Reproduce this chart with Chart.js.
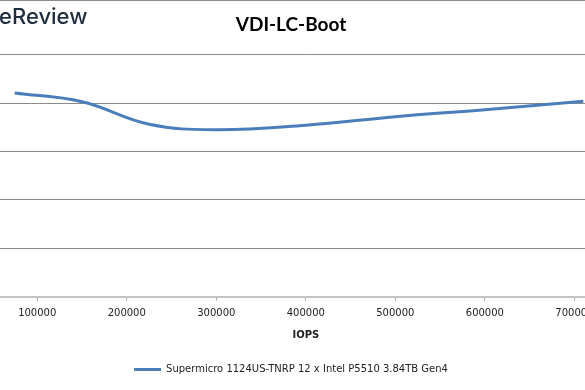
<!DOCTYPE html>
<html><head><meta charset="utf-8">
<script src="https://cdn.jsdelivr.net/npm/chart.js@4.4.1/dist/chart.umd.min.js"></script>
<style>
html,body{margin:0;padding:0;background:#fff;}
body{width:585px;height:390px;position:relative;overflow:hidden;}
#frame{position:absolute;left:0;top:0;width:585px;height:1px;background:#8c8c8c;}
#logo{position:absolute;left:-1px;top:3px;font-family:Inter,sans-serif;font-weight:500;font-size:22px;color:#1d2d3e;}
#wrap{position:absolute;left:-108px;top:0;width:798px;height:390px;}
</style></head><body>
<div id="wrap"><canvas id="c"></canvas></div>
<div id="frame"></div>
<div id="logo">eReview</div>
<script>
const chartTitle = 'VDI-LC-Boot';
const xAxisTitle = 'IOPS';
const seriesName = 'Supermicro 1124US-TNRP 12 x Intel P5510 3.84TB Gen4';
const iops = [74800, 150000, 225000, 300000, 400000, 500000, 600000, 710000];
const latency = [0.842, 0.806, 0.713, 0.690, 0.709, 0.744, 0.773, 0.808];
const xMin = 0, xMax = 800000, xStep = 100000;
const yMin = 0, yMax = 1.0, yStep = 0.2;

const blue = '#4a7ebb';
const points = iops.map((x, i) => ({x: x, y: latency[i]}));

new Chart(document.getElementById('c'), {
  type: 'line',
  data: { datasets: [{
    label: seriesName,
    data: points,
    borderColor: blue,
    backgroundColor: blue,
    borderWidth: 3,
    pointRadius: 0,
    tension: 0.4,
    fill: false
  }]},
  options: {
    responsive: true,
    maintainAspectRatio: false,
    animation: false,
    devicePixelRatio: 1,
    layout: { padding: { left: 20, right: 20, top: 0, bottom: 5.5 } },
    plugins: {
      title: {
        display: true, text: chartTitle, color: '#000',
        font: { family: 'Lato', size: 19, weight: 'bold' },
        padding: { top: 13, bottom: 19 }
      },
      legend: {
        position: 'bottom',
        labels: {
          color: '#222', font: { family: 'DejaVu Sans', size: 10 },
          boxWidth: 27, boxHeight: 3,
          generateLabels: (chart) => chart.data.datasets.map((d, i) => ({
            text: d.label, fillStyle: blue, strokeStyle: blue, lineWidth: 0, datasetIndex: i, fontColor: '#222'
          }))
        }
      },
      tooltip: { enabled: false }
    },
    scales: {
      x: {
        type: 'linear', min: xMin, max: xMax,
        ticks: { stepSize: xStep, autoSkip: false, maxRotation: 0, padding: 7, color: '#222',
          font: { family: 'DejaVu Sans', size: 10 }, callback: v => String(v) },
        grid: { drawOnChartArea: false, drawTicks: true, tickLength: 4, color: '#a6a6a6' },
        border: { display: true, color: '#c4c4c4', width: 2 },
        title: { display: true, text: xAxisTitle, color: '#222',
          font: { family: 'DejaVu Sans', size: 10, weight: 'bold' }, padding: { top: 3, bottom: 13 } }
      },
      y: {
        min: yMin, max: yMax,
        afterFit: s => { s.width = 35.7; },
        ticks: { stepSize: yStep, display: false },
        grid: { drawTicks: false, color: c => (c.tick && c.tick.value === 0) ? 'rgba(0,0,0,0)' : '#8a8a8a', lineWidth: 1 },
        border: { display: false }
      }
    }
  }
});
</script>
</body></html>
